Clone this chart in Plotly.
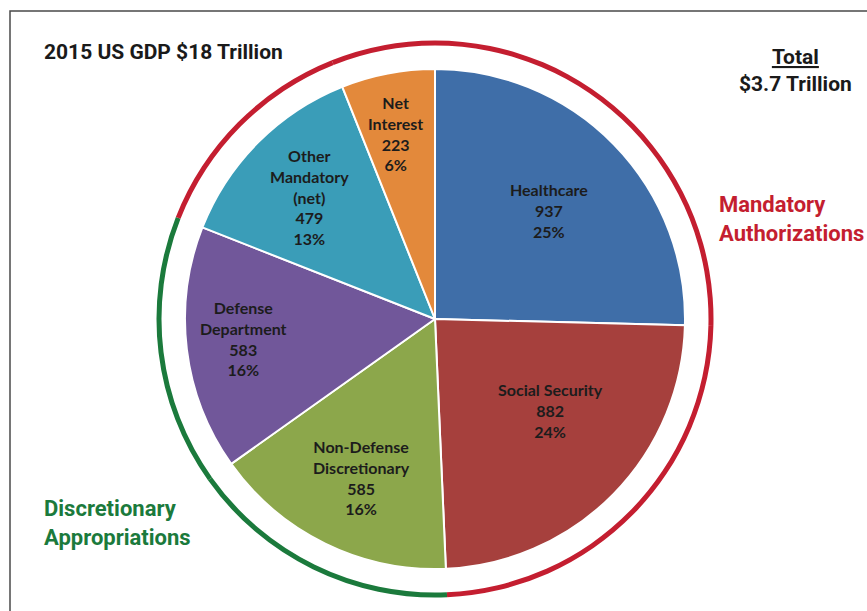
import math
import plotly.graph_objects as go

categories = ["Healthcare", "Social Security", "Non-Defense Discretionary",
              "Defense Department", "Other Mandatory (net)", "Net Interest"]
display_names = ["Healthcare", "Social Security", "Non-Defense<br>Discretionary",
                 "Defense<br>Department", "Other<br>Mandatory<br>(net)", "Net<br>Interest"]
values = [937, 882, 585, 583, 479, 223]
groups = ["Mandatory", "Mandatory", "Discretionary", "Discretionary", "Mandatory", "Mandatory"]

slice_colors = ["#3f6ea8", "#a6403d", "#8ca74b", "#71579a", "#3a9db8", "#e3893b"]
group_colors = {"Mandatory": "#c41e30", "Discretionary": "#1b7a3c"}
# label placement inside each slice: fraction of radius, and fraction along the slice's arc
label_radius = [0.63, 0.59, 0.70, 0.77, 0.70, 0.76]
label_frac = [0.51, 0.43, 0.48, 0.52, 0.49, 0.45]

W, H = 867, 611
cx, cy, r = 435, 319, 250
ring_r, ring_w = 276, 5

fig = go.Figure()

# outer ring showing mandatory vs discretionary
ro = ring_r + ring_w / 2
fig.add_trace(go.Pie(
    labels=categories, values=values, sort=False, direction="clockwise", rotation=0,
    marker=dict(colors=[group_colors[g] for g in groups], line=dict(width=0)),
    hole=(ring_r - ring_w / 2) / ro, textinfo="none", hoverinfo="skip",
    domain=dict(x=[(cx - ro) / W, (cx + ro) / W], y=[1 - (cy + ro) / H, 1 - (cy - ro) / H]),
    showlegend=False,
))

# main pie
fig.add_trace(go.Pie(
    labels=categories, values=values, sort=False, direction="clockwise", rotation=0,
    marker=dict(colors=slice_colors, line=dict(color="white", width=2)),
    textinfo="none",
    domain=dict(x=[(cx - r) / W, (cx + r) / W], y=[1 - (cy + r) / H, 1 - (cy - r) / H]),
    showlegend=False,
))

# slice labels placed inside each slice
total = sum(values)
cum = 0
for name, v, f, fr in zip(display_names, values, label_radius, label_frac):
    ang = (cum + v * fr) / total * 2 * math.pi
    cum += v
    px = cx + f * r * math.sin(ang)
    py = cy - f * r * math.cos(ang)
    fig.add_annotation(x=px / W, y=1 - py / H, xref="paper", yref="paper",
                       xanchor="center", yanchor="middle", showarrow=False, align="center",
                       text=f"{name}<br>{v}<br>{round(v / total * 100)}%",
                       font=dict(family="Lato, Noto Sans, sans-serif", size=16, color="#1c1c1c", weight="bold"))

title_font = dict(family="Roboto, sans-serif", size=21, color="#1a1a1a", weight="bold")
side_family = "Roboto, sans-serif"

fig.add_annotation(x=42 / W, y=1 - 52 / H, xref="paper", yref="paper", xanchor="left", yanchor="middle",
                   text="2015 US GDP $18 Trillion", showarrow=False, font=title_font)
fig.add_annotation(x=795 / W, y=1 - 70 / H, xref="paper", yref="paper", xanchor="center", yanchor="middle",
                   text="<u>Total</u><br>$3.7 Trillion", showarrow=False, font=title_font, align="center")
fig.add_annotation(x=717 / W, y=1 - 219 / H, xref="paper", yref="paper", xanchor="left", yanchor="middle",
                   text="Mandatory<br>Authorizations", showarrow=False, align="left",
                   font=dict(family=side_family, size=22, color="#c41e30", weight="bold"))
fig.add_annotation(x=42 / W, y=1 - 523 / H, xref="paper", yref="paper", xanchor="left", yanchor="middle",
                   text="Discretionary<br>Appropriations", showarrow=False, align="left",
                   font=dict(family=side_family, size=22, color="#1b7a3c", weight="bold"))

# frame
fig.add_shape(type="rect", xref="paper", yref="paper", x0=10 / W, y0=-0.05, x1=1.05, y1=1 - 11 / H,
              line=dict(color="#4a4a4a", width=1.5))

fig.update_layout(width=W, height=H, margin=dict(l=0, r=0, t=0, b=0),
                  paper_bgcolor="white", plot_bgcolor="white")

fig.write_html("out.html")
